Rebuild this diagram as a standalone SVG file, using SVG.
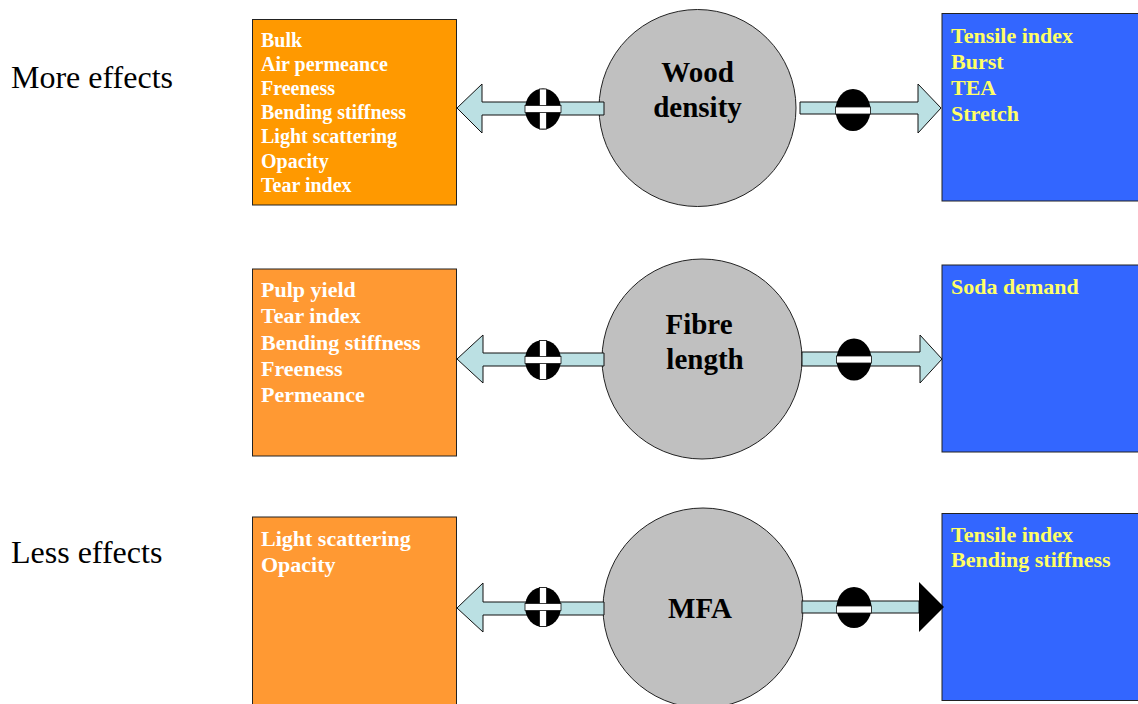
<svg xmlns="http://www.w3.org/2000/svg" width="1138" height="704" viewBox="0 0 1138 704">
<style>
.lbl{font-family:"Liberation Serif","Times New Roman",serif;font-size:32px;fill:#000}
.ot{font-family:"Liberation Serif","Times New Roman",serif;font-weight:bold;fill:#fff}
.bt{font-family:"Liberation Serif","Times New Roman",serif;font-weight:bold;font-size:22px;fill:#FFFF66}
.ct{font-family:"Liberation Serif","Times New Roman",serif;font-weight:bold;font-size:29px;fill:#000;text-anchor:middle}
.ob1{fill:#FF9900;stroke:#222;stroke-width:1}
.ob2{fill:#FF9933;stroke:#222;stroke-width:1}
.bb{fill:#3366FF;stroke:#222;stroke-width:1}
.cir{fill:#C0C0C0;stroke:#222;stroke-width:1}
.arr{fill:#BBE0E3;stroke:#111;stroke-width:1}
.sg{fill:#000}
.bar{fill:#fff;stroke:#111;stroke-width:0.8}
</style>
<rect width="1138" height="704" fill="#fff"/>
<text class="lbl" x="11" y="88">More effects</text>
<text class="lbl" x="11" y="563">Less effects</text>

<g id="box-left-1">
<rect class="ob1" x="252.5" y="19.5" width="204" height="185.5"/>
<text class="ot" font-size="20" x="261"><tspan x="261" y="46.5">Bulk</tspan><tspan x="261" y="70.7">Air permeance</tspan><tspan x="261" y="94.9">Freeness</tspan><tspan x="261" y="119.1">Bending stiffness</tspan><tspan x="261" y="143.3">Light scattering</tspan><tspan x="261" y="167.5">Opacity</tspan><tspan x="261" y="191.7">Tear index</tspan></text>
</g>
<g id="box-left-2">
<rect class="ob2" x="252.5" y="269" width="204" height="187"/>
<text class="ot" font-size="22" x="261"><tspan x="261" y="297.3">Pulp yield</tspan><tspan x="261" y="323.4">Tear index</tspan><tspan x="261" y="349.5">Bending stiffness</tspan><tspan x="261" y="375.6">Freeness</tspan><tspan x="261" y="401.7">Permeance</tspan></text>
</g>
<g id="box-left-3">
<rect class="ob2" x="252.5" y="517" width="204" height="200"/>
<text class="ot" font-size="22" x="261"><tspan x="261" y="545.5">Light scattering</tspan><tspan x="261" y="571.5">Opacity</tspan></text>
</g>

<g id="box-right-1">
<rect class="bb" x="942" y="13.5" width="200" height="187.5"/>
<text class="bt"><tspan x="951" y="42.7">Tensile index</tspan><tspan x="951" y="68.8">Burst</tspan><tspan x="951" y="94.9">TEA</tspan><tspan x="951" y="121">Stretch</tspan></text>
</g>
<g id="box-right-2">
<rect class="bb" x="942" y="265" width="200" height="187"/>
<text class="bt"><tspan x="951" y="293.5">Soda demand</tspan></text>
</g>
<g id="box-right-3">
<rect class="bb" x="942" y="513.5" width="200" height="187"/>
<text class="bt"><tspan x="951" y="541.7">Tensile index</tspan><tspan x="951" y="567">Bending stiffness</tspan></text>
</g>

<g id="node-wood-density">
<circle class="cir" cx="697.5" cy="108" r="98.5"/>
<text class="ct"><tspan x="697.5" y="82">Wood</tspan><tspan x="697.5" y="117">density</tspan></text>
</g>
<g id="node-fibre-length">
<circle class="cir" cx="702" cy="359" r="100"/>
<text class="ct"><tspan x="699" y="334">Fibre</tspan><tspan x="705" y="369">length</tspan></text>
</g>
<g id="node-mfa">
<circle class="cir" cx="703" cy="608" r="100"/>
<text class="ct"><tspan x="700" y="618">MFA</tspan></text>
</g>

<g id="connectors">
<polygon class="arr" points="457,108 482,84 482,102 604,102 604,115 482,115 482,133"/>
<polygon class="arr" points="800,102 918,102 918,84 941,108 918,133 918,114 800,114"/>
<polygon class="arr" points="457,359 483,335 483,353 604,353 604,366 483,366 483,383"/>
<polygon class="arr" points="802,352 920,352 920,335 942,359 920,383 920,366 802,366"/>
<polygon class="arr" points="457,608 483,583 483,602 604,602 604,615 483,615 483,632"/>
<rect class="arr" x="802" y="601" width="117" height="12"/>
<polygon fill="#000" points="919,582 944,607 919,632"/>

<g id="plus-1">
<ellipse class="sg" cx="543" cy="109" rx="18" ry="20.5"/>
<rect class="bar" x="539.5" y="89" width="7" height="40"/>
<rect class="bar" x="525" y="105.5" width="36" height="7"/>
<rect fill="#fff" x="540" y="106" width="6" height="6"/>
</g>
<g id="minus-1">
<ellipse class="sg" cx="853" cy="110" rx="17.5" ry="21"/>
<rect class="bar" x="835.5" y="107" width="35" height="7"/>
</g>
<g id="plus-2">
<ellipse class="sg" cx="543" cy="360" rx="18" ry="20"/>
<rect class="bar" x="539.5" y="340.5" width="7" height="39"/>
<rect class="bar" x="525" y="356.5" width="36" height="7"/>
<rect fill="#fff" x="540" y="357" width="6" height="6"/>
</g>
<g id="minus-2">
<ellipse class="sg" cx="854" cy="359.5" rx="17.5" ry="21"/>
<rect class="bar" x="836.5" y="356" width="35" height="7"/>
</g>
<g id="plus-3">
<ellipse class="sg" cx="543" cy="607" rx="18" ry="20"/>
<rect class="bar" x="539.5" y="587.5" width="7" height="39"/>
<rect class="bar" x="525" y="603.5" width="36" height="7"/>
<rect fill="#fff" x="540" y="604" width="6" height="6"/>
</g>
<g id="minus-3">
<ellipse class="sg" cx="854" cy="607.5" rx="17.5" ry="20.5"/>
<rect class="bar" x="836.5" y="606" width="35" height="7"/>
</g>
</g>
</svg>
